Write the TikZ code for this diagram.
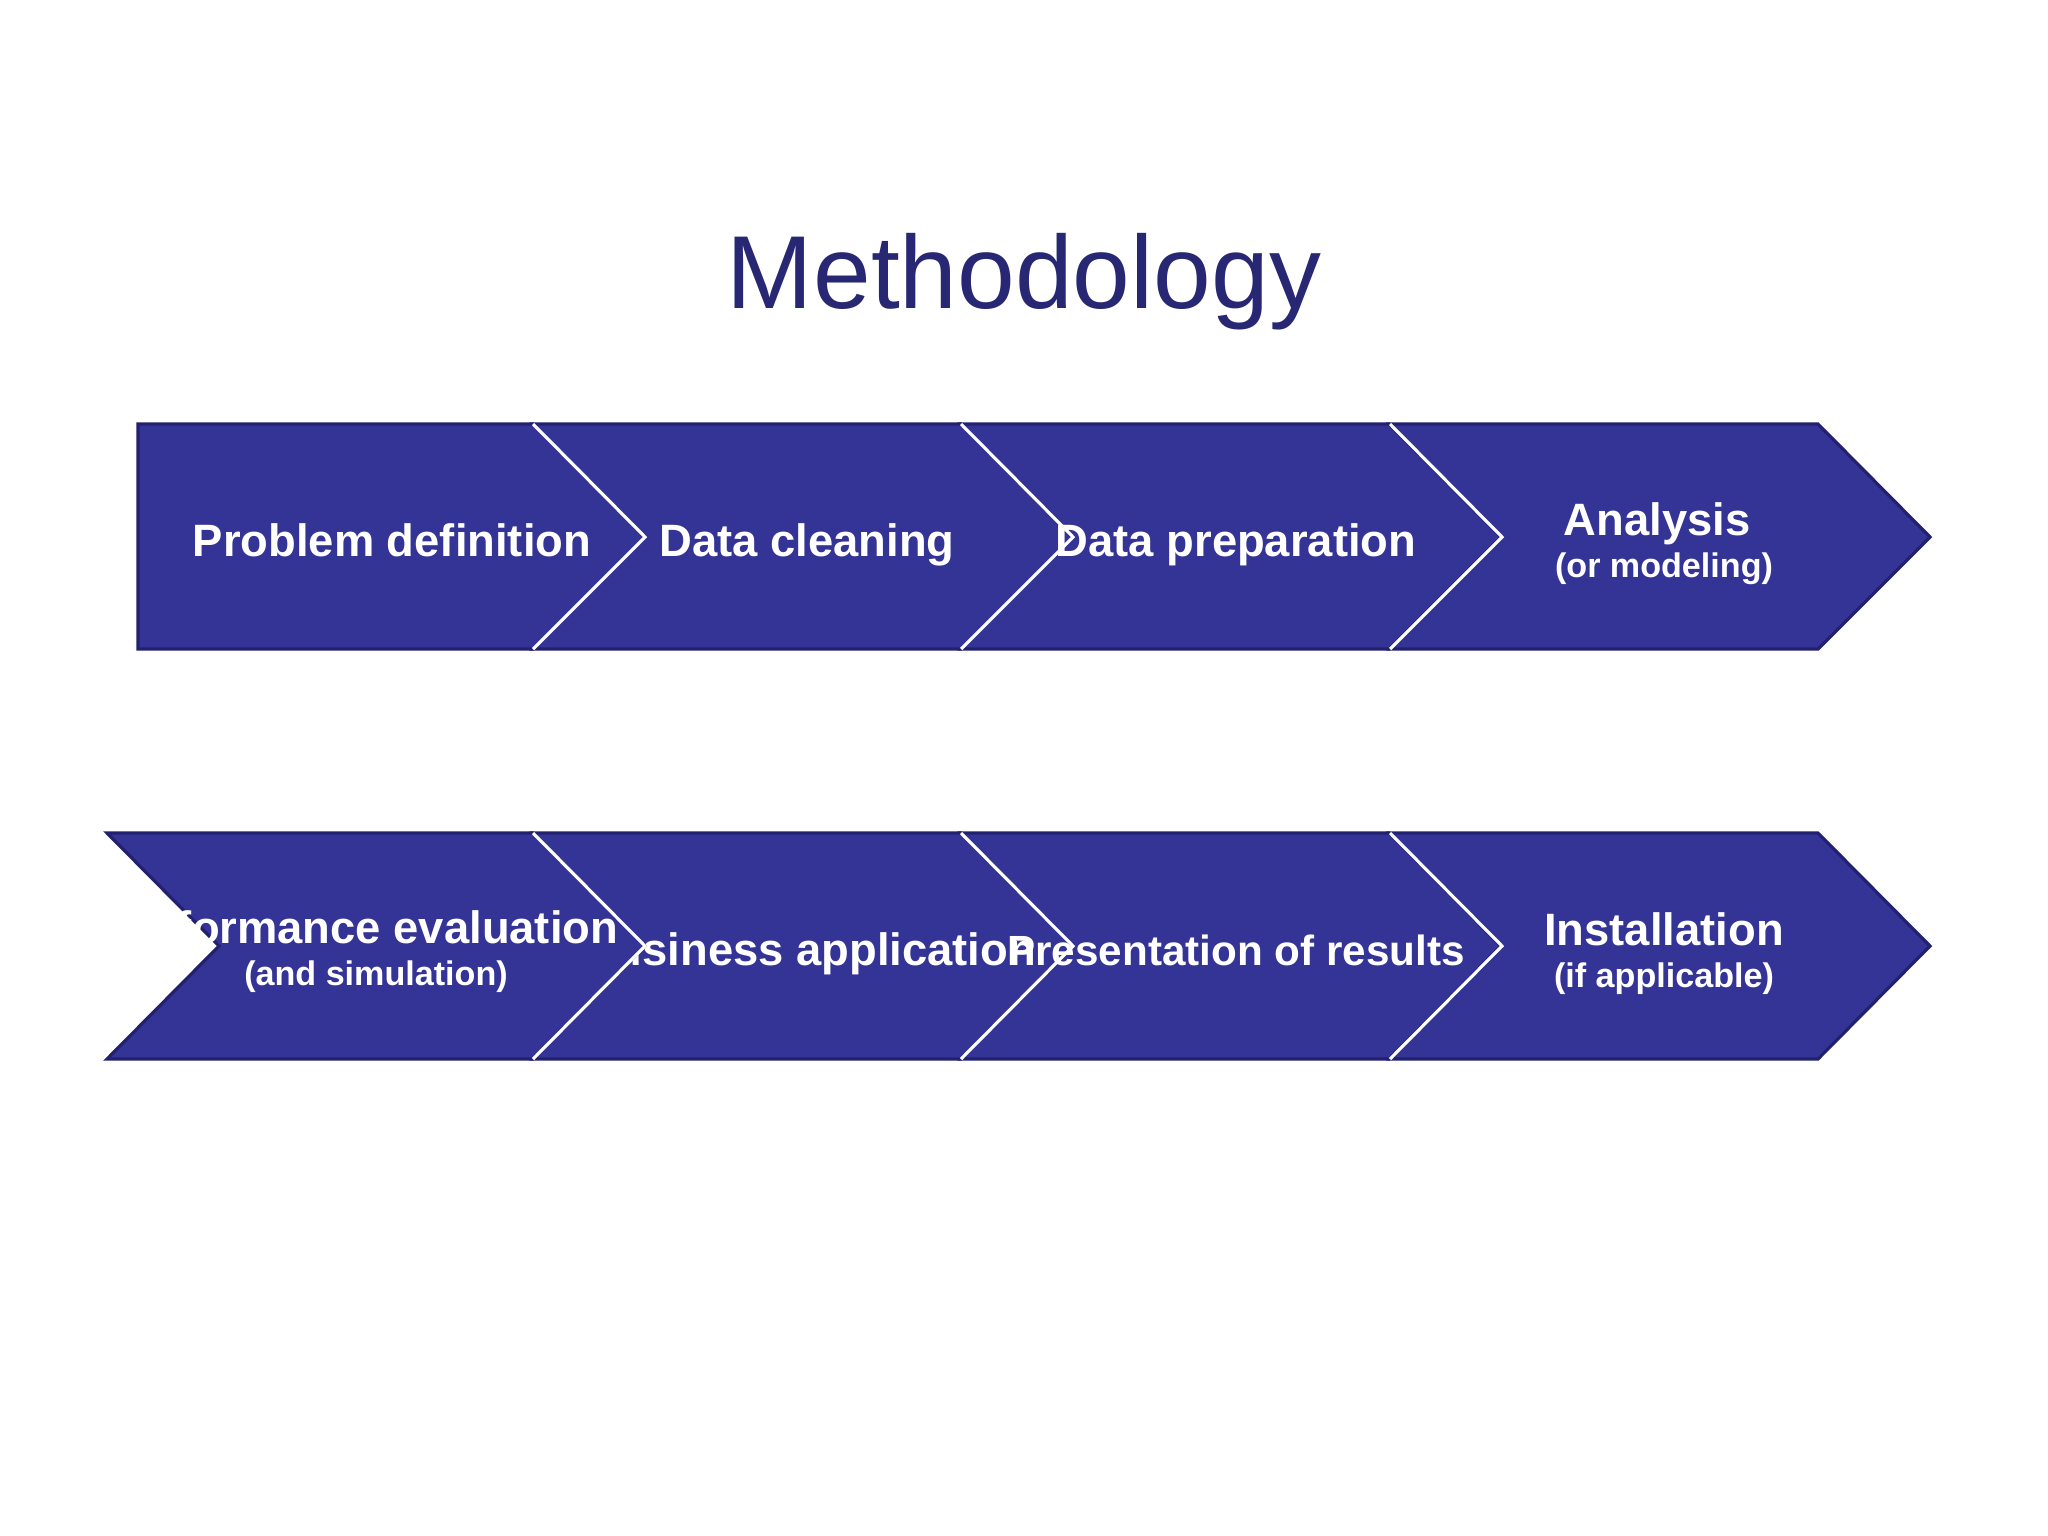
\documentclass[tikz,border=0pt]{standalone}
\usepackage{fontspec}
\setmainfont{Liberation Sans}
\usetikzlibrary{positioning}
\definecolor{chevblue}{RGB}{52,51,150}
\definecolor{chevedge}{RGB}{34,33,112}
\definecolor{titleblue}{RGB}{40,39,115}
\tikzset{chev/.style={fill=chevblue, draw=chevedge, line width=0.9pt, line join=miter}}
\tikzset{sep/.style={draw=white, line width=0.9pt}}
\tikzset{lbl/.style={text=white, font=\fontsize{12.9}{15}\selectfont\bfseries, inner sep=0pt, anchor=base}}
\tikzset{sublbl/.style={text=white, font=\fontsize{9.7}{12}\selectfont\bfseries, inner sep=0pt, anchor=base}}

\begin{document}
\begin{tikzpicture}[x=0.01cm, y=-0.01cm]
    \useasboundingbox (0,0) rectangle (2048,1536);
    \node[font=\fontsize{29.5}{34}\selectfont, text=titleblue, anchor=base, inner sep=0pt] (title) at (1024,308) {Methodology};

    % first row
    \draw[chev] (138,424) -- (533,424) -- (645,537) -- (533,649) -- (138,649) -- cycle;
    \foreach \x in {533,961,1390}
      \draw[chev] (\x,424) -- (\x+428,424) -- (\x+540,537) -- (\x+428,649) -- (\x,649) -- (\x+112,537) -- cycle;
    \foreach \x in {533,961,1390}
      \draw[sep] (\x,424) -- (\x+112,537) -- (\x,649);

    \node[lbl] (pd) at (392,556) {Problem definition};
    \node[lbl] (dc) at (807,556) {Data cleaning};
    \node[lbl] (dp) at (1236,556) {Data preparation};
    \node[lbl] (an) at (1657,535) {Analysis};
    \node[sublbl] (anb) at (1664,577) {(or modeling)};

    % second row
    \foreach \x in {533,961,1390}
      \draw[chev] (\x,833) -- (\x+428,833) -- (\x+540,946) -- (\x+428,1059) -- (\x,1059) -- (\x+112,946) -- cycle;
    \node[lbl] (ba) at (809,965) {Business application};
    \node[lbl, font=\fontsize{12}{14}\selectfont\bfseries] (pr) at (1236,965) {Presentation of results};
    \node[lbl] (in) at (1664,945) {Installation};
    \node[sublbl] (inb) at (1664,987) {(if applicable)};

    \draw[chev] (107,833) -- (533,833) -- (645,946) -- (533,1059) -- (107,1059) -- (219,946) -- cycle;
    \node[lbl] (pe) at (361,943) {Performance evaluation};
    \node[sublbl] (peb) at (376,985) {(and simulation)};

    \foreach \x in {533,961,1390}
      \draw[sep] (\x,833) -- (\x+112,946) -- (\x,1059);
\end{tikzpicture}
\end{document}
